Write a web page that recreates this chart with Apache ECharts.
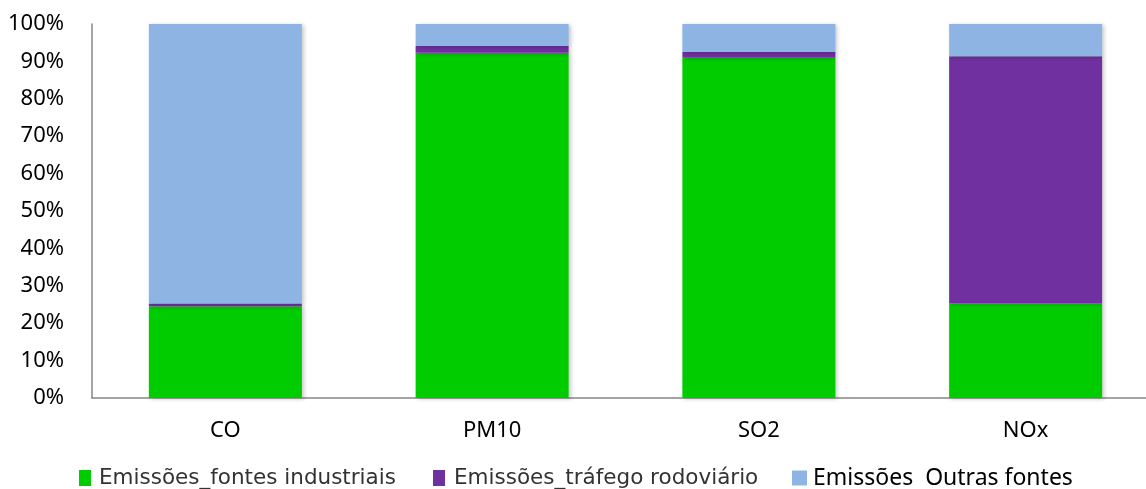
<!DOCTYPE html>
<html>
<head>
<meta charset="utf-8">
<script src="https://cdn.jsdelivr.net/npm/echarts@6/dist/echarts.min.js"></script>
<style>
  html, body { margin: 0; padding: 0; background: #fff; }
  #chart { width: 1146px; height: 489px; }
</style>
</head>
<body>
<div id="chart"></div>
<script>
// Pollutant categories
const categories = ['CO', 'PM10', 'SO2', 'NOx'];
// Share of emissions by source (%)
const industriais = [24.5, 92.3, 91.0, 25.3];
const trafego = [0.8, 1.8, 1.5, 66.1];
const outras = [74.7, 5.9, 7.5, 8.6];
const seriesNames = ['Emissões_fontes industriais', 'Emissões_tráfego rodoviário', 'Emissões  Outras fontes'];
const seriesColors = ['#00CC00', '#7030A0', '#8EB4E3'];

const font = '"Noto Sans", "Open Sans", sans-serif';
const chart = echarts.init(document.getElementById('chart'), null, { renderer: 'canvas' });

const values = [industriais, trafego, outras];
const series = values.map((d, i) => ({
  name: seriesNames[i],
  type: 'bar',
  stack: 'total',
  barWidth: 153,
  data: d,
  itemStyle: {
    color: seriesColors[i],
    shadowBlur: 4,
    shadowOffsetX: 2,
    shadowOffsetY: 1,
    shadowColor: 'rgba(0,0,0,0.22)'
  },
  emphasis: { disabled: true }
}));

// one legend block per source so each entry sits where it should
const legendSpec = [
  { left: 79, top: 465, w: 12, h: 16, family: '"DejaVu Sans", sans-serif', size: 21.5, color: '#333', gap: 8 },
  { left: 433, top: 465, w: 12, h: 16, family: '"DejaVu Sans", sans-serif', size: 21.5, color: '#333', gap: 9 },
  { left: 792, top: 465, w: 15, h: 15, family: font, size: 23, color: '#000', gap: 6 }
];
const legends = legendSpec.map((s, i) => ({
  data: [seriesNames[i]],
  left: s.left,
  top: s.top,
  padding: 0,
  icon: 'rect',
  itemWidth: s.w,
  itemHeight: s.h,
  itemGap: 0,
  selectedMode: false,
  textStyle: {
    fontFamily: s.family, fontSize: s.size, color: s.color,
    lineHeight: 26, padding: [0, 0, 0, s.gap - 5]
  }
}));

chart.setOption({
  animation: false,
  grid: { left: 92, width: 1067, top: 24, bottom: 91, containLabel: false, outerBoundsMode: 'none' },
  legend: legends,
  xAxis: {
    type: 'category',
    data: categories,
    axisTick: { show: false },
    axisLine: { lineStyle: { color: '#868686', width: 1.5 } },
    axisLabel: { fontSize: 22, color: '#000', fontFamily: font, margin: 22 }
  },
  yAxis: {
    type: 'value',
    min: 0,
    max: 100,
    interval: 10,
    splitLine: { show: false },
    axisTick: { show: false },
    axisLine: { show: true, lineStyle: { color: '#868686', width: 1.5 } },
    axisLabel: { fontSize: 22, color: '#000', fontFamily: font, margin: 28, formatter: '{value}%' }
  },
  series: series
});
</script>
</body>
</html>
